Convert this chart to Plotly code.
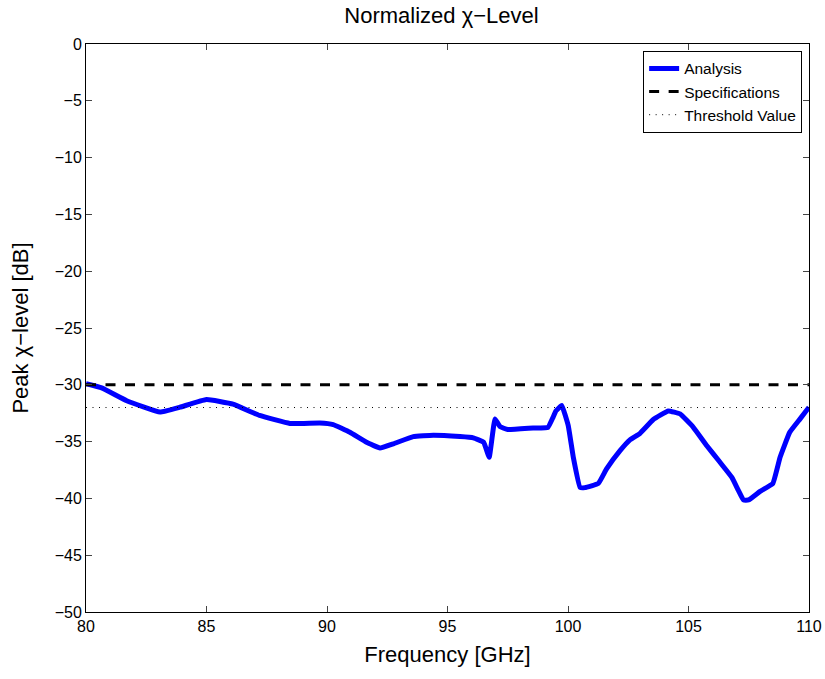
import plotly.graph_objects as go

freq = [80.0, 80.65, 81.69, 83.07, 83.9, 85.0, 86.1, 87.2, 88.46, 89.7, 90.26, 90.95,
        91.64, 92.2, 92.75, 93.58, 94.41, 95.52, 96.07, 96.5, 96.73, 96.97, 97.18,
        97.5, 98.55, 99.17, 99.38, 99.5, 99.74, 100.01, 100.22, 100.5, 100.7, 101.26,
        101.6, 102.16, 102.57, 102.99, 103.54, 104.16, 104.65, 105.2, 105.76, 106.3,
        106.8, 107.07, 107.28, 107.49, 107.97, 108.5, 108.8, 109.2, 109.63, 110.0]
analysis = [-29.9, -30.27, -31.4, -32.4, -31.97, -31.3, -31.7, -32.7, -33.4, -33.36, -33.5, -34.18,
            -35.06, -35.56, -35.2, -34.56, -34.44, -34.56, -34.67, -35.06, -36.38, -33.0, -33.68,
            -33.94, -33.8, -33.74, -32.86, -32.3, -31.82, -33.59, -36.38, -39.03, -39.05, -38.68,
            -37.4, -35.8, -34.85, -34.27, -33.06, -32.3, -32.56, -33.74, -35.36, -36.8,
            -38.15, -39.3, -40.14, -40.14, -39.38, -38.68, -36.38, -34.18, -33.0, -31.97]

spec_x = [80, 110]
spec_y = [-30, -30]
thr_x = [80, 110]
thr_y = [-32, -32]

xticks = [80, 85, 90, 95, 100, 105, 110]
yticks = [0, -5, -10, -15, -20, -25, -30, -35, -40, -45, -50]

fig = go.Figure()
fig.add_trace(go.Scatter(x=freq, y=analysis, mode="lines", name="Analysis",
                         line=dict(color="#0000ff", width=5, shape="spline", smoothing=0.3)))
fig.add_trace(go.Scatter(x=spec_x, y=spec_y, mode="lines", name="Specifications",
                         line=dict(color="black", width=3, dash="10px,9.5px")))
fig.add_trace(go.Scatter(x=thr_x, y=thr_y, mode="lines", name="Threshold Value",
                         line=dict(color="black", width=1, dash="1px,5.5px")))

font_family = "Liberation Sans, Arial, sans-serif"
fig.update_layout(
    width=825, height=679,
    margin=dict(l=86, r=16, t=44, b=67),
    paper_bgcolor="white", plot_bgcolor="white",
    font=dict(family=font_family, size=16, color="black"),
    title=dict(text="Normalized χ−Level", x=441.5 / 825, xref="container", xanchor="center",
               y=1 - 8 / 679, yanchor="top",
               font=dict(size=22, family=font_family)),
    showlegend=True,
    legend=dict(x=0.9905, y=0.988, xanchor="right", yanchor="top",
                bgcolor="white", bordercolor="black", borderwidth=1,
                font=dict(size=15.5, family=font_family), tracegroupgap=0,
                itemwidth=30),
)
fig.update_xaxes(range=[80, 110], tickvals=xticks, ticks="inside", ticklen=6,
                 showline=True, linecolor="black", linewidth=1, mirror="ticks",
                 showgrid=False, zeroline=False, automargin=False,
                 tickfont=dict(size=16),
                 title=dict(text="Frequency [GHz]", font=dict(size=22), standoff=12))
fig.update_yaxes(range=[-50, 0], tickvals=yticks, ticks="inside", ticklen=6,
                 showline=True, linecolor="black", linewidth=1, mirror="ticks",
                 showgrid=False, zeroline=False, automargin=False,
                 tickfont=dict(size=16),
                 title=dict(text="Peak χ−level [dB]", font=dict(size=22), standoff=19))

fig.write_html("out.html")
